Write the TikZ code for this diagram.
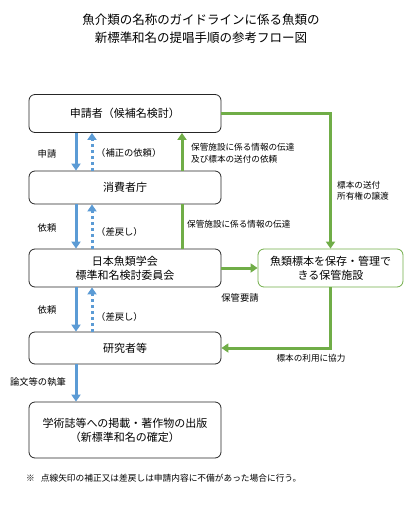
\documentclass[tikz,border=0pt]{standalone}
\usepackage{fontspec}
\setmainfont{Noto Sans CJK JP}
\usepackage{tikz}
\usetikzlibrary{arrows.meta}
\usetikzlibrary{positioning}
\definecolor{flowblue}{HTML}{5B9BD5}
\definecolor{flowgreen}{HTML}{70AD47}

\begin{document}
\begin{tikzpicture}[x=1pt,y=-1pt]
				\tikzset{box/.style = {shape=rectangle,draw=black!85,rounded corners=6pt,
						fill=white,line width=0.8pt,minimum width=192pt,align=center,
						inner sep = 0pt,font=\fontsize{11}{14}\selectfont}}
				\tikzset{sidebox/.style = {box,draw=flowgreen,minimum width=145pt}}
				\tikzset{blueArr/.style = {-{Triangle[length=7pt,width=9pt]},flowblue,line width=3pt}}
				\tikzset{dotArr/.style = {blueArr,dash pattern=on 3pt off 3pt}}
				\tikzset{greenArr/.style = {-{Triangle[length=7pt,width=9pt]},flowgreen,line width=3pt}}
				\tikzset{greenLine/.style = {flowgreen,line width=3pt}}
				\tikzset{lbl/.style = {inner sep=0pt,font=\fontsize{9.3}{11}\selectfont}}
				\tikzset{slbl/.style = {inner sep=0pt,align=left,font=\fontsize{8.6}{11.5}\selectfont}}
				
				\useasboundingbox (0,0) rectangle (406,515);
				
				% title
				\node[align=center,font=\fontsize{12.5}{18}\selectfont] (title) at (201,29)
					{魚介類の名称のガイドラインに係る魚類の\\新標準和名の提唱手順の参考フロー図};
				
				% boxes
				\node[box,minimum height=38pt] (app) at (125,113.5) {申請者（候補名検討）};
				\node[box,minimum height=33pt] (caa) at (125,187.5) {消費者庁};
				\node[box,minimum height=38pt] (ich) at (125,268) {日本魚類学会\\標準和名検討委員会};
				\node[box,minimum height=32pt] (res) at (125,348) {研究者等};
				\node[box,minimum height=56pt] (pub) at (125,430)
					{学術誌等への掲載・著作物の出版\\（新標準和名の確定）};
				\node[sidebox,minimum height=38pt] (fac) at (330.5,268)
					{魚類標本を保存・管理で\\きる保管施設};
				
				\coordinate (la) at (76,0);
				\coordinate (lb) at (92,0);
				\coordinate (gx) at (182,0);
				
				%edges
				\draw[blueArr] (la |- app.south) -- (la |- caa.north);
				\draw[dotArr] (lb |- caa.north) -- (lb |- app.south);
				\draw[blueArr] (la |- caa.south) -- (la |- ich.north);
				\draw[dotArr] (lb |- ich.north) -- (lb |- caa.south);
				\draw[blueArr] (la |- ich.south) -- (la |- res.north);
				\draw[dotArr] (lb |- res.north) -- (lb |- ich.south);
				\draw[blueArr] (la |- res.south) -- (la |- pub.north);
				
				\draw[greenLine] (gx |- ich.north) -- (gx |- caa.south);
				\draw[greenArr] (gx |- caa.north) -- (gx |- app.south);
				\draw[greenArr] (app.east) -| (fac.north);
				\draw[greenArr] (ich.east) -- (fac.west);
				\draw[greenArr] (fac.south) |- (res.east);
				
				% labels
				\node[lbl] (l1) at (47,154) {申請};
				\node[lbl,anchor=west] (l2) at (96,153) {（補正の依頼）};
				\node[lbl] (l3) at (47,228) {依頼};
				\node[lbl,anchor=west] (l4) at (96,232) {（差戻し）};
				\node[lbl] (l5) at (47,310) {依頼};
				\node[lbl,anchor=west] (l6) at (96,317) {（差戻し）};
				\node[lbl] (l7) at (38,382) {論文等の執筆};
				\node[slbl,anchor=west] (g1) at (191,153) {保管施設に係る情報の伝達\\及び標本の送付の依頼};
				\node[slbl,anchor=west] (g2) at (187,224) {保管施設に係る情報の伝達};
				\node[slbl,anchor=west] (g3) at (337,190.5) {標本の送付\\所有権の譲渡};
				\node[lbl] (g4) at (240,298) {保管要請};
				\node[slbl] (g5) at (311,358) {標本の利用に協力};
				
				\node[anchor=west,inner sep=0pt,font=\fontsize{8.7}{10}\selectfont] (note) at (26,478)
					{※\hspace{6pt}点線矢印の補正又は差戻しは申請内容に不備があった場合に行う。};
				
				\end{tikzpicture}
\end{document}
